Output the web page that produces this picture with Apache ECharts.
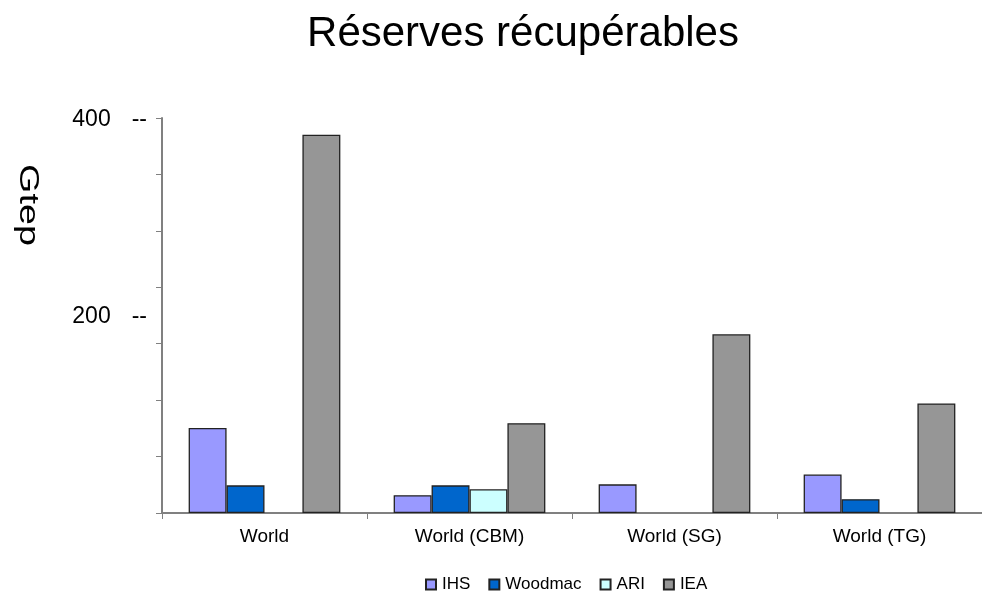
<!DOCTYPE html>
<html>
<head>
<meta charset="utf-8">
<script src="https://cdn.jsdelivr.net/npm/echarts@6/dist/echarts.min.js"></script>
<style>
  html, body { margin: 0; padding: 0; background: #ffffff; }
  #chart { width: 982px; height: 595px; }
</style>
</head>
<body>
<div id="chart"></div>
<script>
// Recoverable reserves by source, in Gtep
const categories = ['World', 'World (CBM)', 'World (SG)', 'World (TG)'];
const seriesNames = ['IHS', 'Woodmac', 'ARI', 'IEA'];
const ihs     = [86, 18, 29, 39];
const woodmac = [28, 28, null, 14];
const ari     = [null, 24, null, null];
const iea     = [383, 91, 181, 111];
const yLabelTicks = [200, 400];

const colors = ['#9999FF', '#0066CC', '#CCFFFF', '#969696'];
const values = [ihs, woodmac, ari, iea];
const FONT = '"Liberation Sans", Arial, Helvetica, sans-serif';

const chart = echarts.init(document.getElementById('chart'), null, { renderer: 'canvas' });

const option = {
  backgroundColor: '#ffffff',
  animation: false,
  textStyle: { fontFamily: FONT },
  title: {
    text: 'Réserves récupérables',
    left: 518,
    top: 8,
    textAlign: 'center',
    textStyle: { fontFamily: FONT, fontSize: 42, fontWeight: 'normal', color: '#000' }
  },
  graphic: [{
    type: 'text',
    x: 27,
    y: 205,
    rotation: -Math.PI / 2,
    scaleX: 1.4,
    style: {
      text: 'Gtep',
      font: '27px ' + FONT,
      fill: '#000',
      align: 'center',
      verticalAlign: 'middle'
    }
  }],
  legend: {
    data: seriesNames,
    left: 420,
    top: 571,
    itemWidth: 10,
    itemHeight: 10,
    itemGap: 18,
    icon: 'rect',
    textStyle: { fontFamily: FONT, fontSize: 17, color: '#000', padding: [0, 0, 0, 1] }
  },
  grid: {
    left: 162,
    right: 0,
    top: 118,
    bottom: 82,
    containLabel: false,
    outerBoundsMode: 'none'
  },
  xAxis: {
    type: 'category',
    data: categories,
    boundaryGap: true,
    axisLine: { lineStyle: { color: '#808080', width: 2 } },
    axisTick: { show: true, length: 6, lineStyle: { color: '#808080', width: 1 } },
    axisLabel: { fontFamily: FONT, fontSize: 19, color: '#000', margin: 14 },
    splitLine: { show: false }
  },
  yAxis: [{
    type: 'value',
    min: 0,
    max: 400,
    interval: 400 / 7,
    axisLine: { show: true, lineStyle: { color: '#808080', width: 2 } },
    axisTick: { show: true, length: 6, lineStyle: { color: '#808080', width: 1 } },
    axisLabel: { show: false },
    splitLine: { show: false }
  }, {
    type: 'value',
    position: 'left',
    min: 0,
    max: 400,
    interval: 200,
    axisLine: { show: false },
    axisTick: { show: false },
    splitLine: { show: false },
    axisLabel: {
      margin: 15,
      formatter: function (v) {
        return yLabelTicks.indexOf(v) >= 0 ? '{n|' + v + '}{d|--}' : '';
      },
      rich: {
        n: { fontFamily: FONT, fontSize: 23, color: '#000', padding: [3, 0, 0, 0] },
        d: { fontFamily: FONT, fontSize: 23, color: '#000', padding: [3, 0, 0, 21] }
      }
    }
  }],
  series: seriesNames.map(function (name, i) {
    return {
      name: name,
      type: 'bar',
      yAxisIndex: 0,
      data: values[i],
      barGap: '0%',
      barCategoryGap: '26%',
      itemStyle: { color: colors[i], borderColor: '#222222', borderWidth: 1.3 }
    };
  })
};

chart.setOption(option);
</script>
</body>
</html>
